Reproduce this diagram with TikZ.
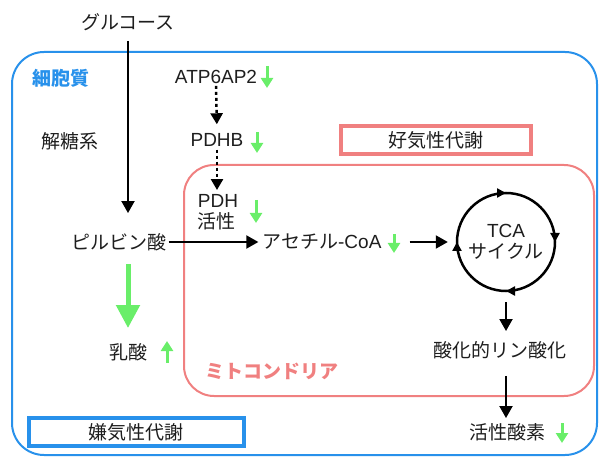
\documentclass[tikz,border=0pt]{standalone}
\usepackage{fontspec}
\setmainfont{Noto Sans CJK JP}
\newfontfamily\lat{Liberation Sans}
\usetikzlibrary{arrows.meta,decorations.markings}
\definecolor{cblue}{RGB}{40,145,235}
\definecolor{cpink}{RGB}{240,128,128}
\definecolor{cgreen}{RGB}{105,238,105}
\definecolor{ctext}{RGB}{30,30,30}
\tikzset{
  txt/.style={inner sep=2pt, text=ctext, font=\fontsize{19}{19}\selectfont},
  blk/.style={draw=black, line width=2pt, -{Triangle[length=12pt,width=13pt]}},
  dots/.style={draw=black, line width=2.5pt, dash pattern=on 3pt off 3pt, -{Triangle[length=11pt,width=12pt]}},
  garrow/.style={draw=cgreen, line width=3pt, -{Triangle[length=10pt,width=12pt]}},
  bigg/.style={draw=cgreen, line width=5pt, -{Triangle[length=23pt,width=23pt]}},
  labbox/.style={txt, line width=4pt, minimum width=#1, minimum height=28pt}
}
\begin{document}
\begin{tikzpicture}[x=1pt,y=-1pt]
\useasboundingbox (0,0) rectangle (600,457);
% compartments
\draw[cblue, line width=2pt, rounded corners=32pt] (12,52) rectangle (597,455);
\draw[cpink, line width=2pt, rounded corners=30pt] (184,165) rectangle (594,396);
% labels
\node[txt] (glc) at (128,22) {グルコース};
\node[txt, text=cblue, font=\fontsize{19}{19}\selectfont\bfseries] (cyto) at (61,78) {細胞質};
\node[txt] (gly) at (70,141) {解糖系};
\node[txt] (atp) at (216,77) {\lat ATP6AP2};
\node[txt] (pdhb) at (217,140) {\lat PDHB};
\node[txt, align=left, font=\fontsize{19}{21}\selectfont] (pdh) at (218,212) {{\lat PDH}\\活性};
\node[txt] (pyr) at (119,242) {ピルビン酸};
\node[txt] (acoa) at (322,242) {アセチル{\lat -CoA}};
\node[txt, circle, minimum size=98pt, inner sep=0pt, align=center, font=\fontsize{19}{21}\selectfont] (tca) at (506,242) {{\lat TCA}\\サイクル};
\node[txt] (oxp) at (500,350) {酸化的リン酸化};
\node[txt] (ros) at (507,432) {活性酸素};
\node[txt] (lac) at (128,352) {乳酸};
\node[txt, text=cpink, font=\fontsize{19}{19}\selectfont\bfseries] (mito) at (272,371) {ミトコンドリア};
\node[labbox=190pt, draw=cpink] (aer) at (436,140) {好気性代謝};
\node[labbox=215pt, draw=cblue] (anaer) at (136,432) {嫌気性代謝};
% TCA cycle circle
\draw[line width=2.5pt, postaction={decorate}, decoration={markings,
  mark=at position 0.125 with {\arrow{Triangle[length=9pt,width=9pt]}},
  mark=at position 0.375 with {\arrow{Triangle[length=9pt,width=9pt]}},
  mark=at position 0.625 with {\arrow{Triangle[length=9pt,width=9pt]}},
  mark=at position 0.875 with {\arrow{Triangle[length=9pt,width=9pt]}}}]
  (tca.center) ++(45:49) arc[start angle=45, end angle=405, radius=49];
% connectors
\draw[blk, shorten <=8pt, shorten >=18pt] (glc.south) -- (glc.south |- pyr.north);
\draw[dots, shorten >=7pt] (atp.south) -- (pdhb.north);
\draw[dots, shorten <=1pt, shorten >=2pt] (pdhb.south) -- (pdhb.south |- pdh.north);
\draw[blk, shorten >=2pt] (pyr.east) -- (acoa.west);
\draw[blk, shorten <=26pt, shorten >=9pt] (acoa.east) -- (tca.west);
\draw[blk, shorten <=11pt, shorten >=8pt] (tca.south) -- (tca.south |- oxp.north);
\draw[blk, shorten <=15pt, shorten >=3pt] (tca.south |- oxp.south) -- (tca.south |- ros.north);
\draw[bigg, shorten <=11pt, shorten >=13pt] (lac |- pyr.south) -- (lac.north);
% up/down indicators
\draw[garrow] (267,66) -- (267,88);
\draw[garrow] (257,132) -- (257,153);
\draw[garrow] (256,200) -- (256,223);
\draw[garrow] (394,234) -- (394,253);
\draw[garrow] (167,363) -- (167,341);
\draw[garrow] (562,423) -- (562,443);
\end{tikzpicture}
\end{document}
